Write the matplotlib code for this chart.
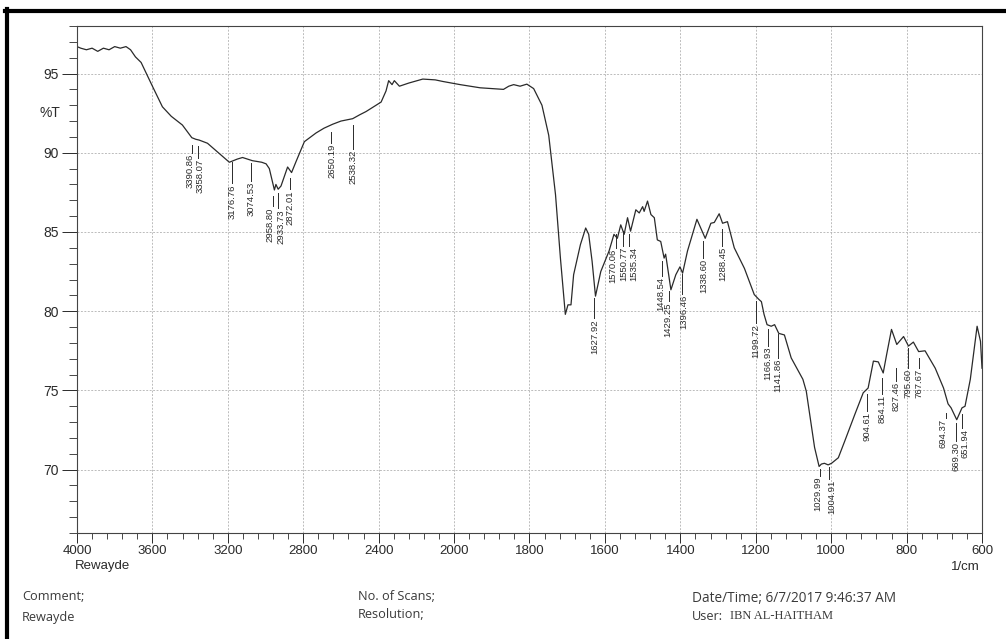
import numpy as np
import matplotlib
matplotlib.use("Agg")
from matplotlib import pyplot as plt
from matplotlib.ticker import FixedLocator
from matplotlib.lines import Line2D

# spectrum (wavenumber 1/cm, %T)
wavenumber = [4000, 3980, 3950, 3920, 3890, 3860, 3830, 3800, 3770, 3740, 3716, 3690,
              3660, 3636, 3600, 3547, 3500, 3441, 3391, 3370, 3352, 3308, 3250, 3192,
              3150, 3122, 3070, 3020, 2997, 2980, 2953, 2945, 2933, 2918, 2883, 2862,
              2838, 2794, 2732, 2690, 2644, 2600, 2538, 2500, 2467, 2387, 2361, 2347,
              2329, 2317, 2290, 2240, 2166, 2100, 2060, 1984, 1931, 1900, 1869, 1855,
              1842, 1825, 1807, 1789, 1767, 1749, 1731, 1718, 1705, 1698, 1690, 1683,
              1665, 1651, 1643, 1634, 1625, 1611, 1589, 1576, 1567, 1558, 1549, 1540,
              1532, 1518, 1509, 1500, 1496, 1487, 1478, 1469, 1461, 1452, 1443, 1439,
              1425, 1412, 1401, 1394, 1381, 1356, 1334, 1319, 1310, 1297, 1288, 1275,
              1257, 1230, 1204, 1192, 1185, 1178, 1170, 1159, 1150, 1139, 1124, 1106,
              1075, 1066, 1044, 1032, 1026, 1018, 1008, 999, 981, 964, 937, 915,
              902, 888, 875, 862, 853, 840, 826, 808, 795, 782, 768, 751,
              724, 702, 690, 682, 667, 653, 645, 631, 613, 604, 600]
transmittance = [96.7, 96.6, 96.5, 96.6, 96.4, 96.6, 96.5, 96.7, 96.6, 96.7, 96.5, 96.05,
                 95.7, 95.1, 94.2, 92.9, 92.3, 91.75, 90.95, 90.85, 90.8, 90.6, 90.0, 89.4,
                 89.6, 89.7, 89.5, 89.4, 89.3, 89.0, 87.65, 88.0, 87.7, 87.9, 89.1, 88.75,
                 89.45, 90.7, 91.25, 91.55, 91.8, 92.0, 92.15, 92.4, 92.6, 93.2, 93.9, 94.55,
                 94.3, 94.55, 94.2, 94.4, 94.65, 94.6, 94.5, 94.3, 94.1, 94.05, 94.0, 94.2,
                 94.3, 94.2, 94.33, 94.05, 93.0, 91.1, 87.35, 83.35, 79.8, 80.4, 80.4, 82.3,
                 84.2, 85.25, 84.85, 83.15, 80.95, 82.5, 83.8, 84.85, 84.6, 85.45, 84.85, 85.9,
                 85.05, 86.4, 86.2, 86.6, 86.3, 86.95, 86.1, 85.9, 84.5, 84.4, 83.35, 83.6,
                 81.35, 82.3, 82.8, 82.4, 83.8, 85.8, 84.6, 85.55, 85.6, 86.15, 85.55, 85.65,
                 84.0, 82.7, 81.05, 80.75, 80.6, 79.8, 79.15, 79.05, 79.15, 78.6, 78.5, 77.05,
                 75.7, 74.95, 71.4, 70.2, 70.35, 70.4, 70.3, 70.4, 70.75, 71.8, 73.5, 74.85,
                 75.15, 76.85, 76.8, 76.1, 77.25, 78.85, 77.9, 78.4, 77.8, 78.05, 77.45, 77.5,
                 76.4, 75.15, 74.15, 73.9, 73.15, 73.9, 74.0, 75.7, 79.05, 78.1, 76.4]

# peak picks
peaks = [3390.86, 3358.07, 3176.76, 3074.53, 2958.80, 2933.73, 2872.01, 2650.19, 2538.32,
         1627.92, 1570.06, 1550.77, 1535.34, 1448.54, 1429.25, 1396.46, 1338.60, 1288.45,
         1199.72, 1166.93, 1141.86, 1029.99, 1004.91, 904.61, 864.11, 827.46, 795.60,
         767.67, 694.37, 669.30, 651.94]
# where each pick's leader starts and where its text starts (in %T)
lead_top = [90.52, 90.4, 89.39, 89.33, 87.24, 87.43, 88.38, 91.34, 91.78,
            80.81, 84.85, 85.04, 84.85, 83.15, 81.25, 82.33, 84.4, 85.16,
            80.62, 78.86, 78.54, 70.03, 70.16, 74.76, 75.77, 76.4, 77.66,
            77.03, 73.56, 72.93, 73.5]
lead_end = [89.96, 89.64, 88.06, 88.19, 86.61, 86.49, 87.69, 90.59, 90.21,
            79.55, 83.97, 84.09, 84.09, 82.2, 80.62, 81.07, 83.34, 84.09,
            79.24, 77.79, 77.03, 69.59, 69.4, 73.69, 74.76, 75.58, 76.4,
            76.4, 73.25, 71.8, 72.6]
# sideways nudge of crowded pick texts (pixels)
nudge = [-2, 2, 0, 0, -3, 3, 0, 0, 0,
         0, -3, 0, 4, -1, -2, 2, 0, 0,
         0, 0, 0, -2, 2, 0, 0, 0, 0,
         0, -3, 0, 3]

x_major = [4000, 3600, 3200, 2800, 2400, 2000, 1800, 1600, 1400, 1200, 1000, 800, 600]
y_major = [70, 75, 80, 85, 90, 95]


# the chart runs half scale above 2000 1/cm
def fwd(w):
    w = np.asarray(w, dtype=float)
    return np.where(w > 2000, 2000 + (w - 2000) / 2, w)


def inv(f):
    f = np.asarray(f, dtype=float)
    return np.where(f > 2000, 2000 + (f - 2000) * 2, f)


W, H = 1006, 639
fig = plt.figure(figsize=(W / 100, H / 100), dpi=100)
ax = fig.add_axes([77 / W, 1 - 533 / H, (982 - 77) / W, (533 - 26) / H])

ink = "#2a2a2a"
ax.plot(wavenumber, transmittance, color=ink, lw=0.9)

ax.set_xscale("function", functions=(fwd, inv))
ax.set_xlim(4000, 600)
ax.set_ylim(66, 98)

x_minor = list(range(3920, 2000, -80)) + list(range(1960, 600, -40))
ax.xaxis.set_major_locator(FixedLocator(x_major))
ax.xaxis.set_minor_locator(FixedLocator(x_minor))
ax.set_xticklabels([str(v) for v in x_major])
ax.yaxis.set_major_locator(FixedLocator(y_major))
ax.yaxis.set_minor_locator(FixedLocator(range(66, 99)))
ax.set_yticklabels([str(v) for v in y_major])

ax.tick_params(axis="x", which="major", direction="out", length=7, width=0.7,
               colors=ink, labelsize=9.5, pad=2)
ax.tick_params(axis="x", which="minor", direction="out", length=4, width=0.6, colors=ink)
ax.tick_params(axis="y", which="major", direction="out", length=11, width=0.7,
               colors=ink, labelsize=10, pad=2)
ax.tick_params(axis="y", which="minor", direction="out", length=6, width=0.6, colors=ink)
for lab in ax.get_xticklabels() + ax.get_yticklabels():
    lab.set_fontfamily("Liberation Sans")

ax.grid(True, which="major", color="#aaaaaa", lw=0.55, ls=(0, (2.5, 2)))
for s in ax.spines.values():
    s.set_color("#444444")
    s.set_linewidth(0.8)

for p, t0, t1, dx in zip(peaks, lead_top, lead_end, nudge):
    ax.plot([p, p], [t0, t1], color=ink, lw=0.7)
    ax.annotate(f"{p:.2f}", xy=(p, t1), xytext=(dx * 0.72, -0.5),
                textcoords="offset points", rotation=90, ha="center", va="top",
                fontsize=6.8, family="Liberation Sans", color=ink)

# labels around the axes
fig.text(40 / W, 1 - 113 / H, "%T", fontsize=10, family="Liberation Sans",
         color=ink, va="center")
fig.text(75 / W, 1 - 566 / H, "Rewayde", fontsize=9.5, family="Liberation Sans",
         color=ink, va="center")
fig.text(980 / W, 1 - 567 / H, "1/cm", fontsize=9.5, family="Liberation Sans",
         color=ink, va="center", ha="right")

# footer of the printout
foot = "#3a3a3a"
fig.text(22 / W, 1 - 597 / H, "Comment;", fontsize=9.2, family="Open Sans", color=foot, va="center")
fig.text(22 / W, 1 - 617 / H, "Rewayde", fontsize=9.2, family="Open Sans", color=foot, va="center")
fig.text(358 / W, 1 - 597 / H, "No. of Scans;", fontsize=9.2, family="Open Sans", color=foot, va="center")
fig.text(358 / W, 1 - 615 / H, "Resolution;", fontsize=9.2, family="Open Sans", color=foot, va="center")
fig.text(692 / W, 1 - 598 / H, "Date/Time; 6/7/2017 9:46:37 AM", fontsize=9.8,
         family="Open Sans", color=foot, va="center")
fig.text(692 / W, 1 - 616 / H, "User:", fontsize=9.2, family="Open Sans", color=foot, va="center")
fig.text(730 / W, 1 - 616 / H, "IBN AL-HAITHAM", fontsize=9, family="Liberation Serif",
         color=foot, va="center")

# dark edge of the scanned page
fig.add_artist(Line2D([5 / W, 1], [1 - 11 / H, 1 - 11 / H], color="black", lw=3,
                      transform=fig.transFigure))
fig.add_artist(Line2D([7 / W, 7 / W], [0, 1 - 9 / H], color="black", lw=3,
                      transform=fig.transFigure))

fig.savefig("out.png", dpi=100)
